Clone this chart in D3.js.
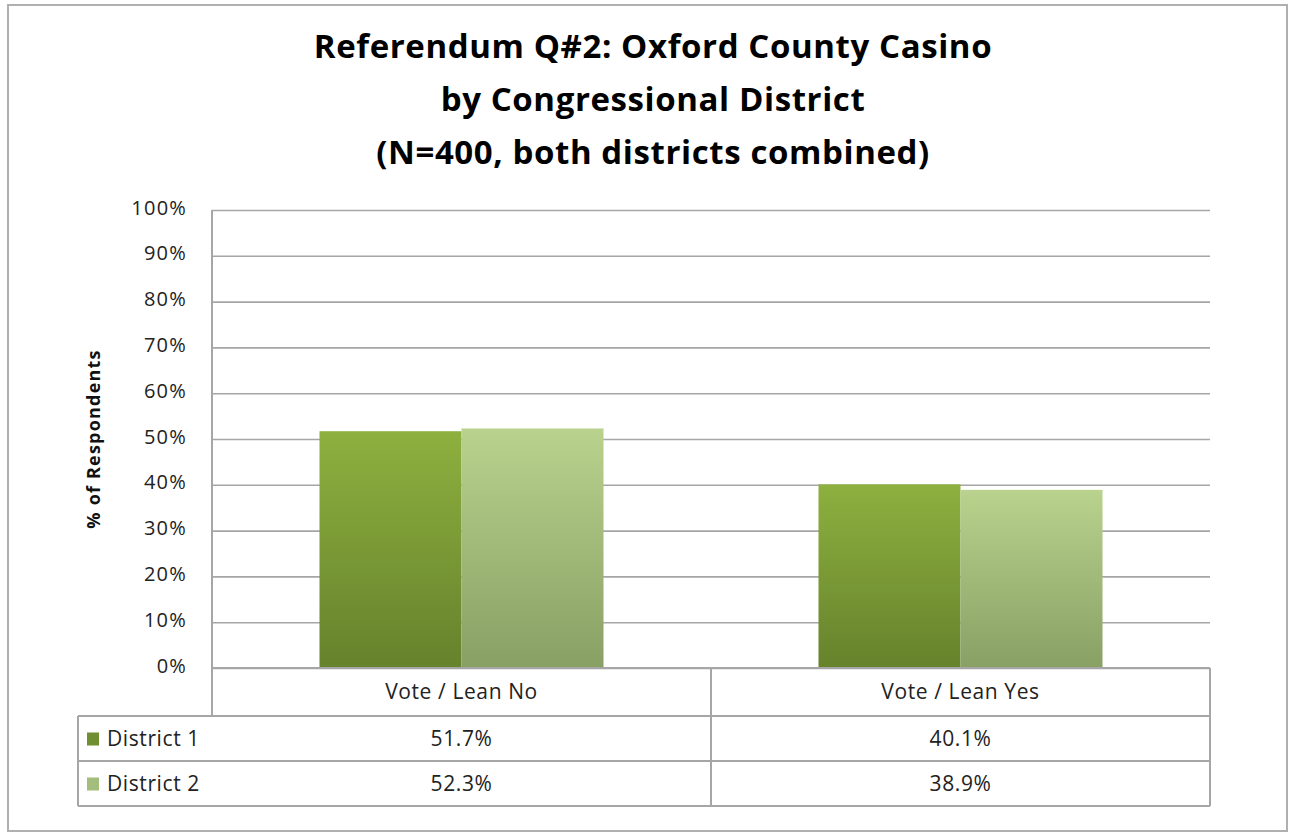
<!DOCTYPE html>
<html>
<head>
<meta charset="utf-8">
<title>Referendum Q#2: Oxford County Casino</title>
<style>
body { margin: 0; background: #fff; }
svg { display: block; }
.title { font: bold 33px "Open Sans", Lato, sans-serif; fill: #000; letter-spacing: 0.6px; }
.tick text { font: 20px "Open Sans", Lato, sans-serif; fill: #222; letter-spacing: 1.2px; }
.axis .domain { display: none; }
.axis line { stroke: #a6a6a6; stroke-width: 1.6; }
.ylabel { font: bold 18px "Open Sans", Lato, sans-serif; fill: #111; letter-spacing: 1.2px; }
.cell { font: 21px "Open Sans", Lato, sans-serif; fill: #222; letter-spacing: 0.6px; }
.grid-line { stroke: #a6a6a6; stroke-width: 2; fill: none; }
</style>
</head>
<body>
<svg width="1289" height="834"></svg>
<script src="https://d3js.org/d3.v7.min.js"></script>
<script>

var titleLines = ["Referendum Q#2: Oxford County Casino", "by Congressional District", "(N=400, both districts combined)"];
var categories = ["Vote / Lean No", "Vote / Lean Yes"];
var seriesNames = ["District 1", "District 2"];
var district1 = [51.7, 40.1];
var district2 = [52.3, 38.9];
var yTicks = [0, 10, 20, 30, 40, 50, 60, 70, 80, 90, 100];

var seriesValues = [district1, district2];
var colorsTop = ["#8db03f", "#b9d28d"];
var colorsBottom = ["#66822c", "#88a064"];
var swatch = ["#6f8f30", "#a3bd7c"];

var svg = d3.select("svg"),
    margin = {top: 210, left: 212, right: 79, bottom: 166},
    width = 1289 - margin.left - margin.right,
    height = 834 - margin.top - margin.bottom,
    g = svg.append("g").attr("transform", "translate(" + margin.left + "," + margin.top + ")");

// outer frame
svg.append("rect")
    .attr("x", 8).attr("y", 5)
    .attr("width", 1279).attr("height", 826)
    .attr("fill", "none")
    .attr("stroke", "#b0b0b0")
    .attr("stroke-width", 2);

// title
svg.selectAll(".title")
  .data(titleLines)
  .enter().append("text")
    .attr("class", "title")
    .attr("x", 653)
    .attr("y", function(d, i) { return 58 + i * 53; })
    .attr("text-anchor", "middle")
    .text(function(d) { return d; });

var defs = svg.append("defs");
seriesNames.forEach(function(s, i) {
  var grad = defs.append("linearGradient")
      .attr("id", "grad" + i)
      .attr("x1", 0).attr("y1", 0).attr("x2", 0).attr("y2", 1);
  grad.append("stop").attr("offset", "0%").attr("stop-color", colorsTop[i]);
  grad.append("stop").attr("offset", "100%").attr("stop-color", colorsBottom[i]);
});

var x0 = d3.scaleBand()
    .domain(categories)
    .range([0, width]);

// two bars fill the middle ~57% of each category band
var x1 = d3.scaleBand()
    .domain(seriesNames)
    .range([0, x0.bandwidth()])
    .paddingInner(0)
    .paddingOuter(0.757);

var y = d3.scaleLinear()
    .domain([0, 100])
    .range([height, 0]);

// gridlines + y ticks
g.append("g")
    .attr("class", "axis")
    .call(d3.axisLeft(y)
      .tickValues(yTicks)
      .tickSize(-width)
      .tickPadding(25)
      .tickFormat(function(d) { return d + "%"; }))
  .selectAll(".tick text")
    .attr("dy", "0.2em");

// left plot border down into the table
g.append("line")
    .attr("class", "grid-line")
    .attr("x1", 0).attr("x2", 0)
    .attr("y1", 0).attr("y2", height + 48);

// bars
var groups = g.selectAll(".cat")
  .data(categories)
  .enter().append("g")
    .attr("class", "cat")
    .attr("transform", function(d) { return "translate(" + x0(d) + ",0)"; });

groups.selectAll("rect")
  .data(function(c, ci) {
    return seriesNames.map(function(s, si) { return {s: s, si: si, v: seriesValues[si][ci]}; });
  })
  .enter().append("rect")
    .attr("x", function(d) { return x1(d.s); })
    .attr("width", x1.bandwidth())
    .attr("y", function(d) { return y(d.v); })
    .attr("height", function(d) { return height - y(d.v); })
    .attr("fill", function(d) { return "url(#grad" + d.si + ")"; });

// data table
var rowH = 45, catRowH = 48, tableLeft = 78 - margin.left;
var table = g.append("g").attr("transform", "translate(0," + height + ")");

table.append("line").attr("class", "grid-line")
    .attr("x1", 0).attr("x2", width).attr("y1", 0).attr("y2", 0);

categories.forEach(function(c, i) {
  table.append("line").attr("class", "grid-line")
      .attr("x1", x0(c) + x0.bandwidth()).attr("x2", x0(c) + x0.bandwidth())
      .attr("y1", 0).attr("y2", catRowH + rowH * seriesNames.length);
  table.append("text")
      .attr("class", "cell")
      .attr("x", x0(c) + x0.bandwidth() / 2)
      .attr("y", catRowH / 2)
      .attr("dy", "0.35em")
      .attr("text-anchor", "middle")
      .text(c);
});

seriesNames.forEach(function(s, si) {
  var top = catRowH + rowH * si;
  table.append("line").attr("class", "grid-line")
      .attr("x1", tableLeft).attr("x2", width)
      .attr("y1", top).attr("y2", top);
  table.append("rect")
      .attr("x", tableLeft + 9)
      .attr("y", top + rowH / 2 - 6)
      .attr("width", 12).attr("height", 13)
      .attr("fill", swatch[si]);
  table.append("text")
      .attr("class", "cell")
      .attr("x", tableLeft + 29)
      .attr("y", top + rowH / 2)
      .attr("dy", "0.35em")
      .text(s);
  categories.forEach(function(c, ci) {
    table.append("text")
        .attr("class", "cell")
        .attr("x", x0(c) + x0.bandwidth() / 2)
        .attr("y", top + rowH / 2)
        .attr("dy", "0.35em")
        .attr("text-anchor", "middle")
        .text(seriesValues[si][ci].toFixed(1) + "%");
  });
});

var bottom = catRowH + rowH * seriesNames.length;
table.append("line").attr("class", "grid-line")
    .attr("x1", tableLeft).attr("x2", width)
    .attr("y1", bottom).attr("y2", bottom);
table.append("line").attr("class", "grid-line")
    .attr("x1", tableLeft).attr("x2", tableLeft)
    .attr("y1", catRowH).attr("y2", bottom);

// y axis title
svg.append("text")
    .attr("class", "ylabel")
    .attr("transform", "translate(100," + (margin.top + height / 2) + ") rotate(-90)")
    .attr("text-anchor", "middle")
    .text("% of Respondents");

</script>
</body>
</html>
